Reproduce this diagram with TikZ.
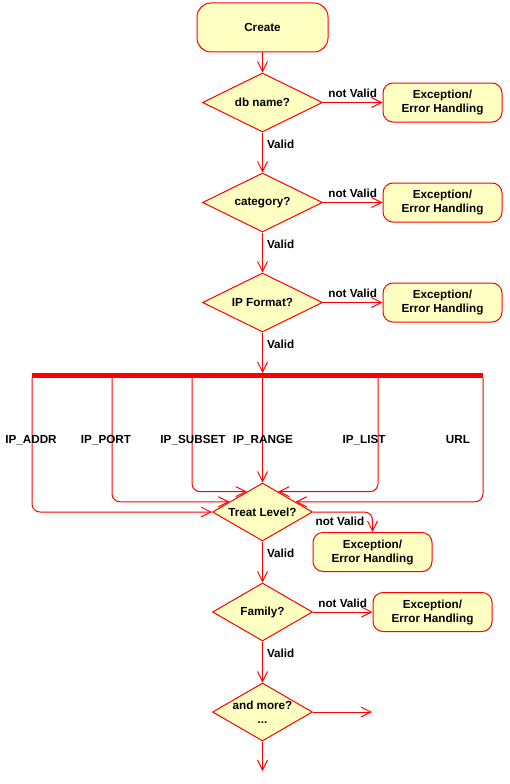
\documentclass[tikz,border=0pt]{standalone}
\usepackage{fontspec}
\setmainfont{Liberation Sans}
\usetikzlibrary{shapes.geometric,arrows.meta,calc}
\definecolor{boxfill}{HTML}{FFFFC2}
\begin{document}
\begin{tikzpicture}[x=1pt,y=-1pt,
  font=\fontsize{11.7}{14}\selectfont\bfseries,
  startbox/.style={draw=red, fill=boxfill, line width=1pt, rounded corners=14pt, minimum width=131pt, minimum height=49pt, inner sep=0pt},
  excbox/.style={draw=red, fill=boxfill, line width=1pt, rounded corners=10pt, minimum width=119pt, minimum height=39pt, inner sep=0pt, align=center},
  dectext/.style={label={[inner sep=0pt, align=center]center:#1}},
  bigdec/.style={diamond, draw=red, fill=boxfill, line width=1pt, minimum width=120pt, minimum height=59pt, inner sep=0pt, dectext={#1}},
  smalldec/.style={diamond, draw=red, fill=boxfill, line width=1pt, minimum width=100pt, minimum height=58pt, inner sep=0pt, dectext={#1}},
  flow/.style={draw=red, line width=1pt, -{Straight Barb[length=10pt,width=10pt]}},
  branch/.style={flow, rounded corners=8pt},
  lbl/.style={inner sep=0pt},
  vlbl/.style={lbl, right=4pt, pos=0.3}]
\useasboundingbox (0,0) rectangle (509,784);

\node[startbox] (create) at (262.5,27.5) {Create};
\node[bigdec={db name?}] (db) at (262.5,102.5) {};
\node[excbox] (e1) at (442.5,102.5) {Exception/\\Error Handling};
\node[bigdec={category?}] (cat) at (262.5,202.5) {};
\node[excbox] (e2) at (442.5,202.5) {Exception/\\Error Handling};
\node[bigdec={IP Format?}] (ipf) at (262.5,302.5) {};
\node[excbox] (e3) at (442.5,302.5) {Exception/\\Error Handling};

\node[fill=red, minimum width=451pt, minimum height=5pt, inner sep=0pt, outer sep=0pt] (bar) at (257.5,375.5) {};

\node[smalldec={Treat Level?}] (tl) at (262.5,512) {};
\node[excbox] (e4) at (372.5,552) {Exception/\\Error Handling};
\node[smalldec={Family?}] (fam) at (262.5,612) {};
\node[excbox] (e5) at (432.5,612) {Exception/\\Error Handling};
\node[smalldec={and more?\\...}] (more) at (262.5,712) {};
\coordinate (moreR) at (372,712);
\coordinate (moreD) at (262.5,771);

% main flow
\draw[flow] (create) -- (db);
\draw[flow] (db) -- node[vlbl] {Valid} (cat);
\draw[flow] (cat) -- node[vlbl] {Valid} (ipf);
\draw[flow] (ipf.south) -- node[vlbl] {Valid} (ipf.south |- bar.north);

\draw[flow] (db.east) -- node[lbl, above=4pt] {not Valid} (e1.west);
\draw[flow] (cat.east) -- node[lbl, above=4pt] {not Valid} (e2.west);
\draw[flow] (ipf.east) -- node[lbl, above=4pt] {not Valid} (e3.west);

% branches
\draw[branch] (bar.south west) |- (tl.west);
\draw[branch] ([xshift=80pt]bar.south west) |- ($(tl.west)!0.345!(tl.north)$);
\draw[branch] ([xshift=160pt]bar.south west) |- ($(tl.west)!0.69!(tl.north)$);
\draw[flow] (tl.north |- bar.south) -- (tl.north);
\draw[branch] ([xshift=-105pt]bar.south east) |- ($(tl.east)!0.69!(tl.north)$);
\draw[branch] (bar.south east) |- ($(tl.east)!0.345!(tl.north)$);

\node[lbl] (l1) at (31,440) {IP\_ADDR};
\node[lbl] (l2) at (106,440) {IP\_PORT};
\node[lbl] (l3) at (193,440) {IP\_SUBSET};
\node[lbl] (l4) at (263,440) {IP\_RANGE};
\node[lbl] (l5) at (364,440) {IP\_LIST};
\node[lbl] (l6) at (458,440) {URL};

\draw[branch] (tl.east) -| (e4.north);
\node[lbl] (nv4) at (340,521) {not Valid};
\draw[flow] (tl) -- node[vlbl] {Valid} (fam);
\draw[flow] (fam.east) -- node[lbl, above=4pt] {not Valid} (e5.west);
\draw[flow] (fam) -- node[vlbl] {Valid} (more);
\draw[flow] (more.east) -- (moreR);
\draw[flow] (more.south) -- (moreD);
\end{tikzpicture}
\end{document}
